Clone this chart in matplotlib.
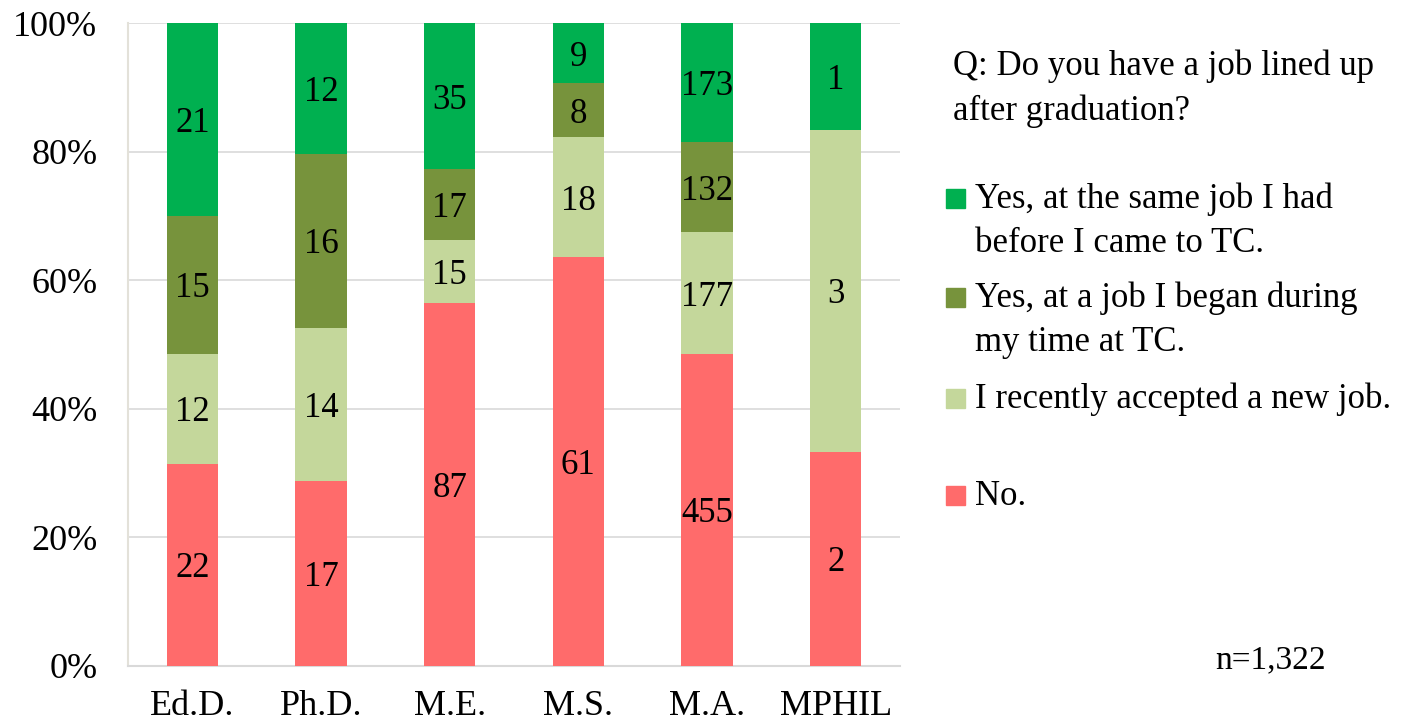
import matplotlib.pyplot as plt
import numpy as np
from matplotlib.patches import Rectangle

plt.rcParams['font.family'] = ['Liberation Serif', 'DejaVu Serif']

programs = ['Ed.D.', 'Ph.D.', 'M.E.', 'M.S.', 'M.A.', 'MPHIL']
no = [22, 17, 87, 61, 455, 2]
new_job = [12, 14, 15, 18, 177, 3]
began = [15, 16, 17, 8, 132, 0]
same = [21, 12, 35, 9, 173, 1]

series = [no, new_job, began, same]
colors = ['#FF6B6B', '#C4D79B', '#77933C', '#00B050']
labels = [['No.'],
          ['I recently accepted a new job.'],
          ['Yes, at a job I began during', 'my time at TC.'],
          ['Yes, at the same job I had', 'before I came to TC.']]

counts = np.array(series, dtype=float)
totals = counts.sum(axis=0)
pct = counts / totals

W, H = 1409, 724
fig = plt.figure(figsize=(W / 100, H / 100), dpi=100)
ax = fig.add_axes([128 / W, 58 / H, 772 / W, 643 / H])

x = np.arange(len(programs))
bottom = np.zeros(len(programs))
for vals, share, c in zip(series, pct, colors):
    ax.bar(x, share, 0.4, bottom=bottom, color=c, zorder=3)
    for xi, v, s, b in zip(x, vals, share, bottom):
        if v > 0:
            ax.text(xi, b + s / 2, str(v), ha='center', va='center_baseline',
                    fontsize=25, zorder=4)
    bottom += share

ax.set_xlim(-0.5, 5.5)
ax.set_ylim(0, 1)
ax.set_yticks(np.arange(0, 1.01, 0.2))
ax.set_yticklabels(['%d%%' % v for v in range(0, 101, 20)])
ax.set_xticks(x)
ax.set_xticklabels(programs)
ax.tick_params(axis='both', length=0, labelsize=26)
ax.tick_params(axis='y', pad=22)
ax.tick_params(axis='x', pad=17)
ax.grid(axis='y', color='#D9D9D9', linewidth=1.2, zorder=0)
for side in ['top', 'right']:
    ax.spines[side].set_visible(False)
ax.spines['left'].set_color('#E3E1D9')
ax.spines['bottom'].set_color('#D9D9D9')
ax.spines['left'].set_linewidth(1.5)
ax.spines['bottom'].set_linewidth(1.5)

# question title
fig.text(953 / W, 1 - 75 / H, 'Q: Do you have a job lined up',
         fontsize=25, va='baseline', ha='left')
fig.text(953 / W, 1 - 120 / H, 'after graduation?',
         fontsize=25, va='baseline', ha='left')

# legend drawn by hand to keep Excel spacing
first_base = [505, 408, 307, 208]
for lines, c, yb in zip(labels, colors, first_base):
    fig.patches.append(Rectangle((946 / W, 1 - yb / H), 19 / W, 19 / H,
                                 transform=fig.transFigure, color=c))
    for i, line in enumerate(lines):
        fig.text(975 / W, 1 - (yb + 44 * i) / H, line, fontsize=25,
                 va='baseline', ha='left')

fig.text(1215 / W, 1 - 668 / H, 'n=1,322', fontsize=24, va='baseline', ha='left')

fig.savefig('out.png', dpi=100)
